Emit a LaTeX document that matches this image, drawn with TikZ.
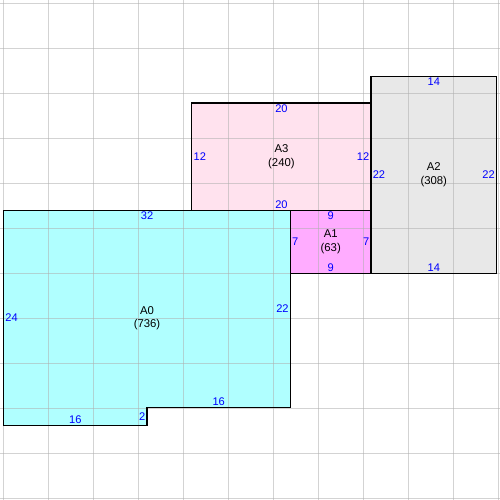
\documentclass[tikz,border=0pt]{standalone}
\usepackage{fontspec}
\setmainfont{Liberation Sans}
\definecolor{areacyan}{RGB}{176,255,255}
\definecolor{areapink}{RGB}{255,226,238}
\definecolor{areamagenta}{RGB}{255,172,255}
\definecolor{areagray}{RGB}{232,232,232}
\definecolor{gridgray}{RGB}{175,175,175}
\tikzset{
  region/.style={draw=black, line width=0.9pt},
  gridline/.style={draw=gridgray, draw opacity=0.55, line width=0.75pt},
  len/.style={text=blue, font=\fontsize{8.8}{10}\selectfont, inner sep=1.2pt},
  areaname/.style={align=center, font=\fontsize{9}{10.5}\selectfont, inner sep=0pt}
}
\begin{document}
\begin{tikzpicture}[x=0.25cm, y=0.25cm]
\useasboundingbox (-0.41,-8.31) rectangle (55.39,47.49);

\fill[areacyan] (0,0) -- (16,0) -- (16,2) -- (32,2) -- (32,24) -- (0,24) -- cycle;
\fill[areapink] (21,24) rectangle (41,36);
\fill[areamagenta] (32,17) rectangle (41,24);
\fill[areagray] (41,17) rectangle (55,39);

\foreach \k in {0,...,11} {
  \draw[gridline] ({-0.045+5.022*\k},-8.31) -- ++(0,55.8);
  \draw[gridline] (-0.41,{47.12-5.022*\k}) -- ++(55.8,0);
}

\draw[region] (0,0) -- (16,0) -- (16,2) -- (32,2) -- (32,24) -- (0,24) -- cycle;
\draw[region] (21,24) rectangle (41,36);
\draw[region] (32,17) rectangle (41,24);
\draw[region] (41,17) rectangle (55,39);

\node[areaname] (a0) at (16,12) {A0\\(736)};
\node[len, below] (a0top) at (16,24) {32};
\node[len, right] (a0left) at (0,12) {24};
\node[len, left] (a0right) at (32,13) {22};
\node[len, above] (a0botl) at (8,0) {16};
\node[len, left] (a0step) at (16,1) {2};
\node[len, above] (a0botr) at (24,2) {16};

\node[areaname] (a3) at (31,30) {A3\\(240)};
\node[len, below] (a3top) at (31,36) {20};
\node[len, right] (a3left) at (21,30) {12};
\node[len, left] (a3right) at (41,30) {12};
\node[len, above] (a3bot) at (31,24) {20};

\node[areaname] (a1) at (36.5,20.5) {A1\\(63)};
\node[len, below] (a1top) at (36.5,24) {9};
\node[len, right] (a1left) at (32,20.5) {7};
\node[len, left] (a1right) at (41,20.5) {7};
\node[len, above] (a1bot) at (36.5,17) {9};

\node[areaname] (a2) at (48,28) {A2\\(308)};
\node[len, below] (a2top) at (48,39) {14};
\node[len, right] (a2left) at (41,28) {22};
\node[len, left] (a2right) at (55,28) {22};
\node[len, above] (a2bot) at (48,17) {14};
\end{tikzpicture}
\end{document}
